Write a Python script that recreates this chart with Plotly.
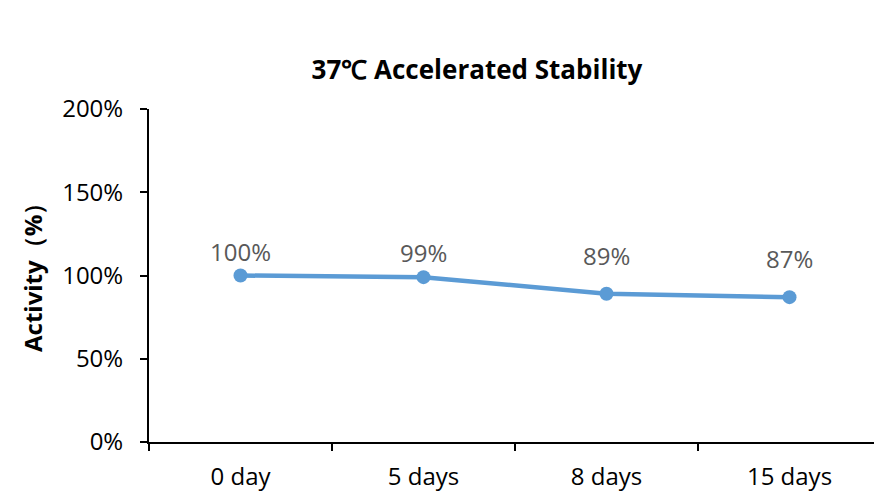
import plotly.graph_objects as go

categories = ["0 day", "5 days", "8 days", "15 days"]
activity = [1.00, 0.99, 0.89, 0.87]
labels = ["100%", "99%", "89%", "87%"]
y_ticks = [0, 0.5, 1.0, 1.5, 2.0]
y_tick_text = ["0%", "50%", "100%", "150%", "200%"]

W, H = 882, 499
# browser body margin offsets the figure by 8px
L, R, T, B = 141, 9, 101, 65
font_main = "'Open Sans', Lato, sans-serif"
label_lift = [24, 25, 38, 39]  # pixel lift of data labels above points (style)

fig = go.Figure()
fig.add_trace(go.Scatter(
    x=categories, y=activity, mode="lines+markers",
    line=dict(color="#5B9BD5", width=4.5),
    marker=dict(color="#5B9BD5", size=14),
    cliponaxis=False, showlegend=False,
))

annotations = [
    dict(x=c, y=v, text=t, xref="x", yref="y", showarrow=False,
         xanchor="center", yanchor="middle", yshift=s,
         font=dict(family=font_main, size=24, color="#595959"))
    for c, v, t, s in zip(categories, activity, labels, label_lift)
]
annotations.append(dict(text="<b>Activity（%）</b>", textangle=-90,
                        xref="paper", yref="paper",
                        x=(24 - L) / (W - L - R), y=(434 - 263) / (434 - 101),
                        xanchor="center", yanchor="middle", showarrow=False,
                        font=dict(family=font_main, size=24, color="black")))

fig.update_layout(
    width=W, height=H,
    margin=dict(l=L, r=R, t=T, b=B),
    paper_bgcolor="white", plot_bgcolor="white",
    title=dict(text="<b>37℃ Accelerated Stability</b>",
               x=469 / W, xanchor="center", xref="container",
               y=1 - 62 / H, yanchor="middle", yref="container",
               font=dict(family=font_main, size=26, color="black")),
    xaxis=dict(type="category", showgrid=False, showline=True,
               linecolor="black", linewidth=2, ticks="outside",
               tickson="boundaries", ticklen=7, tickwidth=2, tickcolor="black",
               ticklabelstandoff=12,
               tickfont=dict(family=font_main, size=24, color="black"),
               range=[-0.5, 3.5]),
    yaxis=dict(range=[0, 2.0], tickvals=y_ticks, ticktext=y_tick_text,
               showgrid=False, zeroline=False, showline=True,
               linecolor="black", linewidth=2, ticks="outside",
               ticklen=7, tickwidth=2, tickcolor="black",
               ticklabelstandoff=12,
               tickfont=dict(family=font_main, size=24, color="black")),
    annotations=annotations,
)

fig.write_html("out.html")
